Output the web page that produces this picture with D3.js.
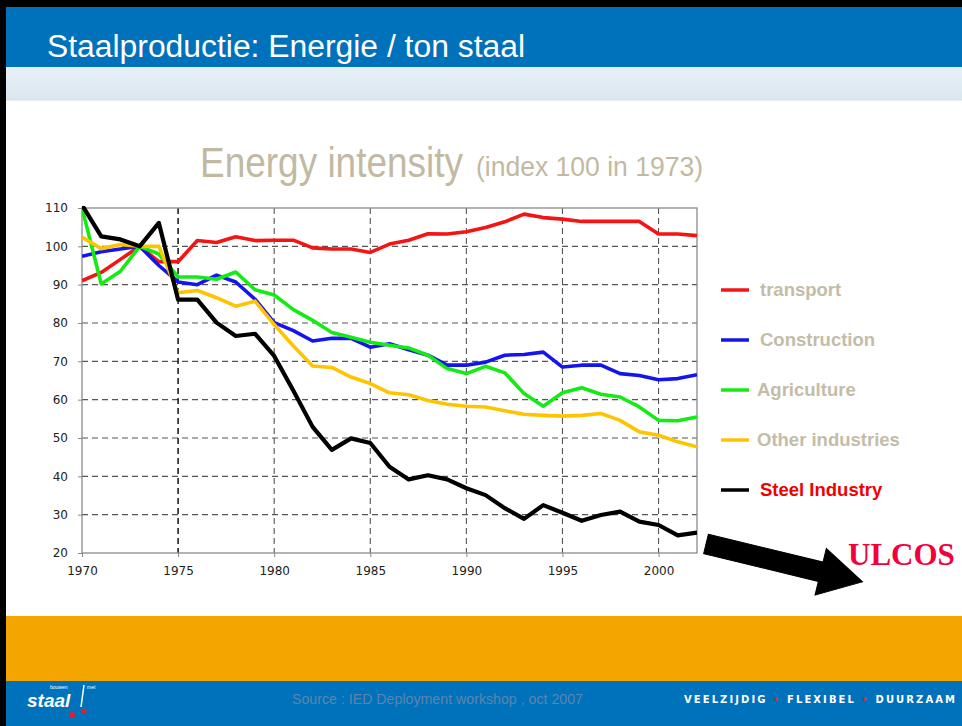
<!DOCTYPE html>
<html>
<head>
<meta charset="utf-8">
<script src="https://cdn.jsdelivr.net/npm/d3@7"></script>
<style>
  html, body { margin: 0; padding: 0; background: #fff; }
  svg { display: block; }
</style>
</head>
<body>
<div id="canvas"></div>
<script>
const years = d3.range(1970, 2003);

const transport = [91, 93.2, 96.6, 100, 96, 96, 101.5, 101, 102.5, 101.5, 101.6, 101.6, 99.6, 99.3, 99.3, 98.4,
  100.6, 101.6, 103.3, 103.2, 103.8, 104.9, 106.4, 108.4, 107.5, 107.1, 106.5, 106.5, 106.5, 106.5, 103.2, 103.2, 102.8];
const construction = [97.4, 98.6, 99.3, 100, 95, 90.7, 90, 92.5, 90.7, 86.2, 80.1, 78, 75.3, 76, 76, 73.7,
  74.6, 73, 71.6, 69, 69, 69.8, 71.6, 71.8, 72.4, 68.5, 69, 69, 66.8, 66.3, 65.2, 65.5, 66.5];
const agriculture = [110, 90.2, 93.5, 100, 98, 92, 92, 91.4, 93.3, 88.7, 87.3, 83.5, 80.7, 77.5, 76.3, 75,
  74.2, 73.5, 71.6, 68.1, 66.8, 68.7, 67, 61.6, 58.3, 61.8, 63.1, 61.4, 60.7, 58.1, 54.6, 54.5, 55.5];
const otherIndustries = [102.4, 99.4, 100.5, 100, 100, 87.9, 88.5, 86.6, 84.4, 85.7, 79.6, 74, 68.8, 68.4, 65.9, 64.2,
  61.8, 61.3, 59.8, 58.8, 58.3, 58.1, 57.1, 56.2, 55.9, 55.7, 55.9, 56.4, 54.6, 51.6, 50.7, 49, 47.7];
const steelIndustry = [110.8, 102.6, 101.8, 100, 106.1, 86.1, 86.1, 80.1, 76.6, 77.2, 71.4, 62.3, 52.9, 46.9, 49.9, 48.7,
  42.5, 39.2, 40.3, 39.2, 36.9, 35.1, 31.7, 28.9, 32.5, 30.5, 28.4, 29.9, 30.8, 28.2, 27.3, 24.6, 25.3];

const seriesNames = ['transport', 'Construction', 'Agriculture', 'Other industries', 'Steel Industry'];
const seriesValues = [transport, construction, agriculture, otherIndustries, steelIndustry];
const seriesColors = ['#f41414', '#1414ee', '#14ea14', '#ffc400', '#000000'];

const yTicks = [20, 30, 40, 50, 60, 70, 80, 90, 100, 110];
const xTicks = [1970, 1975, 1980, 1985, 1990, 1995, 2000];

const w = 962;
const h = 726;

const svg = d3.select('#canvas')
  .append('svg')
  .attr('width', w)
  .attr('height', h);

// slide frame
svg.append('rect').attr('x', 0).attr('y', 0).attr('width', w).attr('height', h).attr('fill', '#fff');

const defs = svg.append('defs');
const band = defs.append('linearGradient').attr('id', 'band').attr('x1', 0).attr('y1', 0).attr('x2', 0).attr('y2', 1);
band.append('stop').attr('offset', '0%').attr('stop-color', '#e7f0f7');
band.append('stop').attr('offset', '100%').attr('stop-color', '#dbe7f0');

svg.append('rect').attr('x', 0).attr('y', 0).attr('width', w).attr('height', 7).attr('fill', '#000');
svg.append('rect').attr('x', 0).attr('y', 0).attr('width', 6).attr('height', h).attr('fill', '#000');
svg.append('rect').attr('x', 6).attr('y', 7).attr('width', w - 6).attr('height', 60).attr('fill', '#0071bb');
svg.append('rect').attr('x', 6).attr('y', 67).attr('width', w - 6).attr('height', 33).attr('fill', 'url(#band)');
svg.append('line').attr('x1', 6).attr('x2', w).attr('y1', 100).attr('y2', 100).attr('stroke', '#d2dde6');

svg.append('text')
  .attr('x', 47).attr('y', 57)
  .attr('fill', '#fff')
  .style('font-family', '"Liberation Sans", Arial, sans-serif')
  .style('font-size', '31px')
  .attr('textLength', 478)
  .attr('lengthAdjust', 'spacingAndGlyphs')
  .text('Staalproductie: Energie / ton staal');

// chart title (condensed face, squeezed to the reference width)
svg.append('text')
  .attr('x', 200).attr('y', 177)
  .attr('fill', '#c2b9a2')
  .style('font-family', '"Liberation Sans", Arial, sans-serif')
  .style('font-size', '42px')
  .attr('textLength', 263)
  .attr('lengthAdjust', 'spacingAndGlyphs')
  .text('Energy intensity');
svg.append('text')
  .attr('x', 476).attr('y', 176)
  .attr('fill', '#c2b9a2')
  .style('font-family', '"Liberation Sans", Arial, sans-serif')
  .style('font-size', '27px')
  .attr('textLength', 227)
  .attr('lengthAdjust', 'spacingAndGlyphs')
  .text('(index 100 in 1973)');

// plot
const x = d3.scaleLinear().domain([1970, 2002]).range([82, 697]);
const y = d3.scaleLinear().domain([20, 110]).range([553, 208]);

defs.append('clipPath').attr('id', 'plotclip')
  .append('rect').attr('x', 82).attr('y', 206).attr('width', 615).attr('height', 349);

const grid = svg.append('g');
grid.selectAll('line.h')
  .data(yTicks.filter(d => d > 20 && d < 110))
  .enter().append('line')
  .attr('x1', 82).attr('x2', 697)
  .attr('y1', d => y(d)).attr('y2', d => y(d))
  .attr('stroke', '#555').attr('stroke-width', 1.1)
  .attr('stroke-dasharray', '6,4');
grid.selectAll('line.v')
  .data(xTicks.filter(d => d > 1970))
  .enter().append('line')
  .attr('x1', d => x(d)).attr('x2', d => x(d))
  .attr('y1', 208).attr('y2', 553)
  .attr('stroke', d => d === 1975 ? '#111' : '#555')
  .attr('stroke-width', d => d === 1975 ? 1.5 : 1.1)
  .attr('stroke-dasharray', '6,4');

svg.append('rect')
  .attr('x', 82).attr('y', 208).attr('width', 615).attr('height', 345)
  .attr('fill', 'none').attr('stroke', '#8a8a8a').attr('stroke-width', 1.3);

const yAxis = svg.append('g')
  .attr('transform', 'translate(82,0)')
  .call(d3.axisLeft(y).tickValues(yTicks).tickSize(4).tickFormat(d3.format('d')));
const xAxis = svg.append('g')
  .attr('transform', 'translate(0,553)')
  .call(d3.axisBottom(x).tickValues(xTicks).tickSize(4).tickFormat(d3.format('d')));
[yAxis, xAxis].forEach(a => {
  a.select('.domain').remove();
  a.selectAll('.tick line').attr('stroke', '#8a8a8a');
  a.selectAll('.tick text')
    .attr('fill', '#222')
    .style('font-family', '"DejaVu Sans", Verdana, sans-serif')
    .style('font-size', '12px');
});
yAxis.selectAll('.tick text').attr('x', -14);
xAxis.selectAll('.tick text').attr('y', 13);

const line = d3.line()
  .x((d, i) => x(years[i]))
  .y(d => y(d));

svg.append('g')
  .attr('clip-path', 'url(#plotclip)')
  .selectAll('path')
  .data(seriesValues)
  .enter().append('path')
  .attr('d', line)
  .attr('fill', 'none')
  .attr('stroke', (d, i) => seriesColors[i])
  .attr('stroke-width', (d, i) => i === 4 ? 4.2 : 3.6)
  .attr('stroke-linejoin', 'round');

// legend
const legendY = d3.scalePoint().domain(seriesNames).range([290, 490]);
const legend = svg.append('g');
legend.selectAll('line')
  .data(seriesNames)
  .enter().append('line')
  .attr('x1', 721).attr('x2', 749)
  .attr('y1', d => legendY(d)).attr('y2', d => legendY(d))
  .attr('stroke', (d, i) => seriesColors[i])
  .attr('stroke-width', 3.5);
legend.selectAll('text')
  .data(seriesNames)
  .enter().append('text')
  .attr('x', (d, i) => (i === 2 || i === 3) ? 757 : 760)
  .attr('y', d => legendY(d) + 6)
  .attr('fill', (d, i) => i === 4 ? '#f00000' : '#c4bca8')
  .style('font-family', '"Liberation Sans", Arial, sans-serif')
  .style('font-size', '18.5px')
  .style('font-weight', 'bold')
  .text(d => d);

// ULCOS arrow
const arrow = svg.append('g')
  .attr('transform', 'translate(706,544) rotate(13.6)');
arrow.append('path')
  .attr('d', 'M0,-10 L118,-10 L118,-24 L161,0 L118,24 L118,10 L0,10 Z')
  .attr('fill', '#000')
  .attr('stroke', '#000')
  .attr('stroke-width', 1);

svg.append('text')
  .attr('x', 848).attr('y', 565)
  .attr('fill', '#f2003c')
  .style('font-family', '"Liberation Serif", "Times New Roman", serif')
  .style('font-size', '31px')
  .style('font-weight', 'bold')
  .text('ULCOS');

// footer
svg.append('rect').attr('x', 6).attr('y', 616).attr('width', w - 6).attr('height', 65).attr('fill', '#f5a500');
svg.append('rect').attr('x', 6).attr('y', 681).attr('width', w - 6).attr('height', 45).attr('fill', '#0071bb');

const logo = svg.append('g');
logo.append('text')
  .attr('x', 27).attr('y', 707)
  .attr('fill', '#fff')
  .style('font-family', '"Liberation Sans", Arial, sans-serif')
  .style('font-size', '19px')
  .style('font-weight', 'bold')
  .style('font-style', 'italic')
  .text('staal');
logo.append('text')
  .attr('x', 50).attr('y', 689)
  .attr('fill', '#fff')
  .style('font-family', '"Liberation Sans", Arial, sans-serif')
  .style('font-size', '5px')
  .text('bouwen');
logo.append('text')
  .attr('x', 87).attr('y', 689)
  .attr('fill', '#fff')
  .style('font-family', '"Liberation Sans", Arial, sans-serif')
  .style('font-size', '5px')
  .text('met');
logo.append('line')
  .attr('x1', 84).attr('x2', 81).attr('y1', 685).attr('y2', 707)
  .attr('stroke', '#fff').attr('stroke-width', 1.5);
logo.append('circle').attr('cx', 72).attr('cy', 715).attr('r', 3).attr('fill', '#e0202a');
logo.append('circle').attr('cx', 84).attr('cy', 711).attr('r', 2.6).attr('fill', '#e0202a');

svg.append('text')
  .attr('x', 292).attr('y', 704)
  .attr('fill', '#5c86ad')
  .style('font-family', '"Liberation Sans", Arial, sans-serif')
  .style('font-size', '15px')
  .attr('textLength', 291)
  .attr('lengthAdjust', 'spacingAndGlyphs')
  .text('Source : IED Deployment workshop , oct 2007');

const tagline = svg.append('text')
  .attr('x', 684).attr('y', 703)
  .attr('fill', '#fff')
  .style('font-family', '"DejaVu Sans", Verdana, sans-serif')
  .style('font-size', '10px')
  .style('font-weight', 'bold')
  .attr('textLength', 271)
  .attr('lengthAdjust', 'spacing');
tagline.append('tspan').text('VEELZIJDIG ');
tagline.append('tspan').attr('fill', '#d0303a').text('•');
tagline.append('tspan').text(' FLEXIBEL ');
tagline.append('tspan').attr('fill', '#d0303a').text('•');
tagline.append('tspan').text(' DUURZAAM');
</script>
</body>
</html>
